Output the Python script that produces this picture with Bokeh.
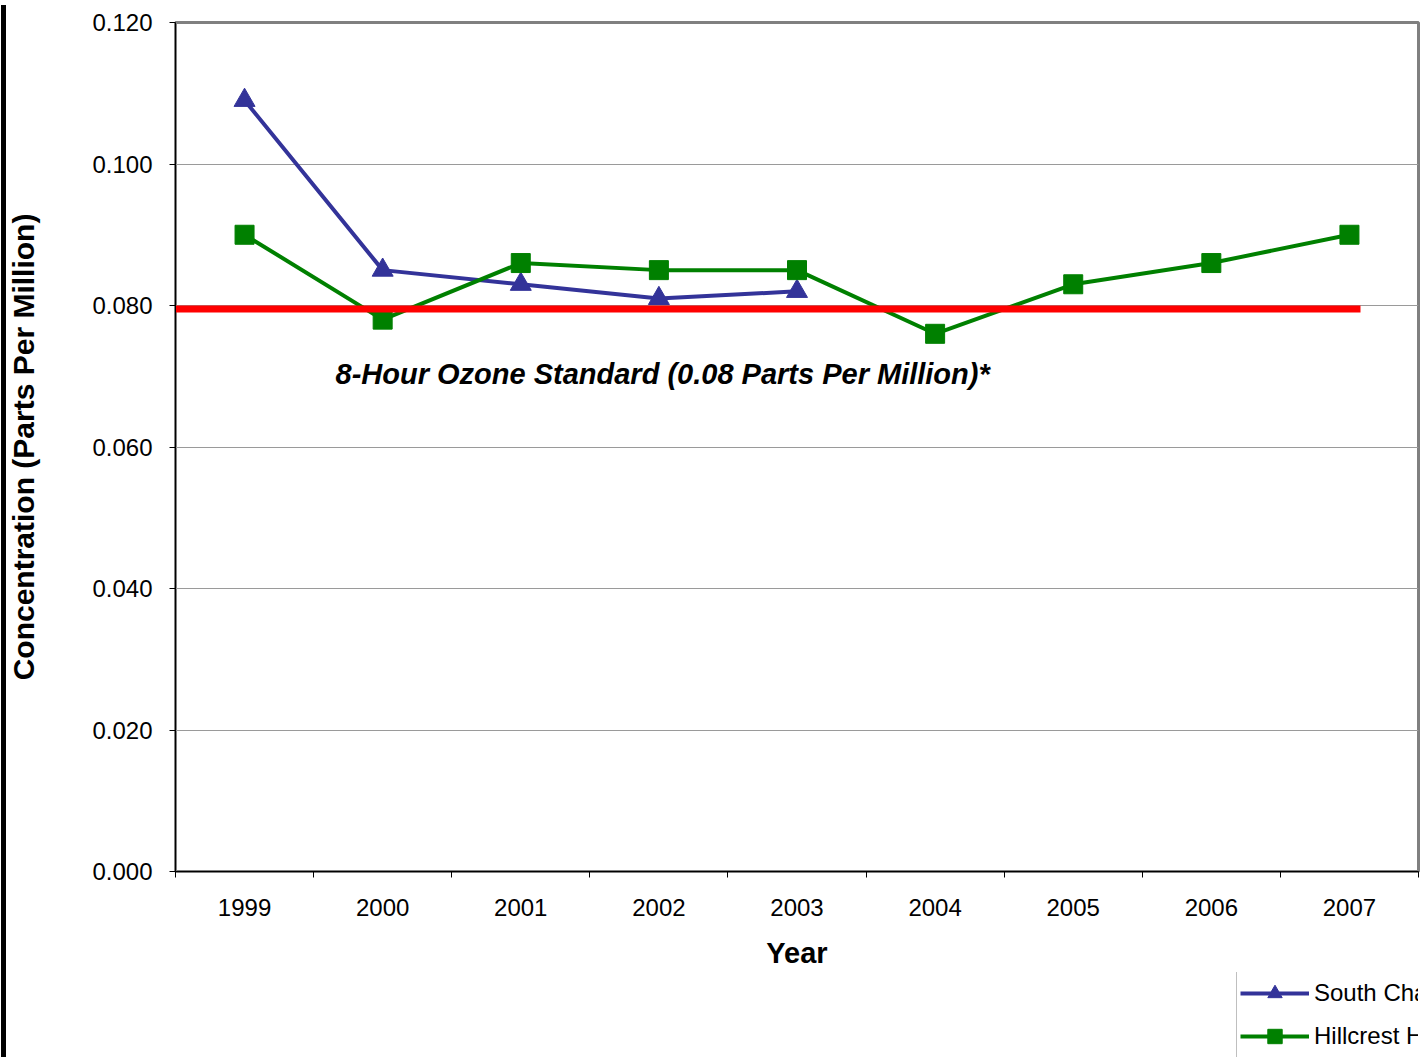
from bokeh.plotting import figure
from bokeh.models import FixedTicker, Legend, LegendItem, Label, Div, Range1d, CustomJSTickFormatter
from bokeh.layouts import column
from bokeh.embed import file_html
from bokeh.resources import INLINE

years = [1999, 2000, 2001, 2002, 2003, 2004, 2005, 2006, 2007]
year_labels = ["1999", "2000", "2001", "2002", "2003", "2004", "2005", "2006", "2007"]
south_name = "South Charleston"
south_years = [1999, 2000, 2001, 2002, 2003]
south_vals = [0.109, 0.085, 0.083, 0.081, 0.082]
hill_name = "Hillcrest Heights"
hill_years = [1999, 2000, 2001, 2002, 2003, 2004, 2005, 2006, 2007]
hill_vals = [0.090, 0.078, 0.086, 0.085, 0.085, 0.076, 0.083, 0.086, 0.090]
standard_years = [1998.5, 2007.08]
standard_vals = [0.0795, 0.0795]
standard_label = "8-Hour Ozone Standard (0.08 Parts Per Million)*"
y_ticks = [0.0, 0.02, 0.04, 0.06, 0.08, 0.10, 0.12]
category_edges = [1998.5, 1999.5, 2000.5, 2001.5, 2002.5, 2003.5, 2004.5, 2005.5, 2006.5, 2007.5]

FONT = "Liberation Sans"
BLUE = "#333399"
GREEN = "#008000"

p = figure(width=1422, height=972, output_backend="svg", toolbar_location=None,
           x_range=Range1d(1998.5, 2007.5), y_range=Range1d(0, 0.12),
           min_border_left=175, min_border_right=4, min_border_top=22, min_border_bottom=101)
p.background_fill_color = "white"
p.border_fill_color = "white"
p.outline_line_color = "#808080"
p.outline_line_width = 3

# grid
p.xgrid.grid_line_color = None
p.ygrid.ticker = FixedTicker(ticks=y_ticks[1:-1])
p.ygrid.grid_line_color = "#9a9a9a"
p.ygrid.grid_line_width = 1

# x axis
p.xaxis.ticker = FixedTicker(ticks=years, minor_ticks=category_edges)
p.xaxis.major_label_overrides = {y: l for y, l in zip(years, year_labels)}
p.xaxis.major_tick_line_color = None
p.xaxis.major_tick_out = 0
p.xaxis.major_tick_in = 0
p.xaxis.minor_tick_out = 6
p.xaxis.minor_tick_in = 0
p.xaxis.minor_tick_line_color = "black"
p.xaxis.axis_line_color = "black"
p.xaxis.major_label_text_font = FONT
p.xaxis.major_label_text_font_size = "24px"
p.xaxis.major_label_text_color = "black"
p.xaxis.major_label_standoff = 21
p.xaxis.axis_label = "Year"
p.xaxis.axis_label_text_font = FONT
p.xaxis.axis_label_text_font_style = "bold"
p.xaxis.axis_label_text_font_size = "29px"
p.xaxis.axis_label_text_color = "black"
p.xaxis.axis_label_standoff = 18

# y axis
p.yaxis.ticker = FixedTicker(ticks=y_ticks)
p.yaxis.formatter = CustomJSTickFormatter(code="return tick.toFixed(3);")
p.yaxis.minor_tick_line_color = None
p.yaxis.major_tick_out = 6
p.yaxis.major_tick_in = 0
p.yaxis.major_tick_line_color = "black"
p.yaxis.axis_line_color = "black"
p.yaxis.major_label_text_font = FONT
p.yaxis.major_label_text_font_size = "24px"
p.yaxis.major_label_text_color = "black"
p.yaxis.major_label_standoff = 17
p.yaxis.axis_label = "Concentration (Parts Per Million)"
p.yaxis.axis_label_text_font = FONT
p.yaxis.axis_label_text_font_style = "bold"
p.yaxis.axis_label_text_font_size = "30px"
p.yaxis.axis_label_text_color = "black"
p.yaxis.axis_label_standoff = 49

# series
p.line(south_years, south_vals, line_color=BLUE, line_width=4)
p.scatter(south_years, south_vals, marker="triangle", size=21, fill_color=BLUE, line_color=BLUE)
p.line(hill_years, hill_vals, line_color=GREEN, line_width=4)
p.scatter(hill_years, hill_vals, marker="square", size=19, fill_color=GREEN, line_color=GREEN)

# standard line
p.line(standard_years, standard_vals, line_color="#ff0000", line_width=7)

p.add_layout(Label(x=335 - 175, y=871 - 373, x_units="screen", y_units="screen",
                   text=standard_label,
                   text_font=FONT, text_font_style="bold italic", text_font_size="29px",
                   text_color="black", text_baseline="middle"))

# legend strip below the chart (series drawn off-range so only the legend shows)
pl = figure(width=1422, height=85, output_backend="svg", toolbar_location=None,
            x_range=Range1d(0, 1), y_range=Range1d(0, 1),
            x_axis_location=None, y_axis_location=None,
            min_border_left=175, min_border_right=4, min_border_top=0, min_border_bottom=0)
pl.grid.visible = False
pl.outline_line_color = None
pl.background_fill_color = "white"
pl.border_fill_color = "white"
ls_line = pl.line(south_years, south_vals, line_color=BLUE, line_width=4)
ls_mark = pl.scatter(south_years, south_vals, marker="triangle", size=17, fill_color=BLUE, line_color=BLUE)
lh_line = pl.line(hill_years, hill_vals, line_color=GREEN, line_width=4)
lh_mark = pl.scatter(hill_years, hill_vals, marker="square", size=16, fill_color=GREEN, line_color=GREEN)

legend = Legend(items=[LegendItem(label=south_name, renderers=[ls_line, ls_mark]),
                       LegendItem(label=hill_name, renderers=[lh_line, lh_mark])],
                location=(1236 - 175, -1), orientation="vertical",
                padding=3, spacing=7, glyph_width=69, glyph_height=36, label_height=36,
                label_standoff=5, margin=0,
                label_text_font=FONT, label_text_font_size="24px", label_text_color="black",
                border_line_color="#808080", border_line_width=1,
                background_fill_color="white", background_fill_alpha=1)
pl.add_layout(legend, "center")

bar = Div(text="", width=0, height=0,
          styles={"position": "fixed", "left": "-4px", "top": "0px", "width": "5px",
                  "height": "1057px", "background-color": "black", "z-index": "10"})

layout = column(bar, p, pl, spacing=0)
open("out.html", "w").write(file_html(layout, INLINE))
